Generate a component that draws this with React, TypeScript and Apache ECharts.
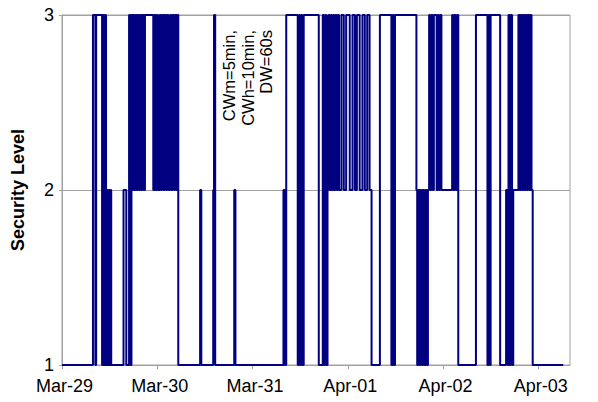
import React, { useEffect, useRef } from "react";
import * as echarts from "echarts";

// Hours elapsed since Mar-29 00:00 at which the security level changes
const hours = [
  0, 7.8, 8.4, 8.6, 10.1, 10.4, 10.6, 10.9, 11.1, 11.4, 11.6, 11.8, 12.0, 12.2, 12.4,
  15.5, 16.2, 16.9, 17.2, 17.5, 17.7, 17.9, 18.2, 18.5, 18.8, 19.1, 19.4, 19.7, 20.0,
  20.3, 20.6, 20.9, 23.0, 23.3, 23.6, 23.9, 24.2, 24.6, 24.9, 25.2, 25.5, 25.8, 26.2,
  26.5, 26.8, 27.2, 27.5, 27.8, 28.2, 28.5, 28.8, 29.1, 29.3, 34.8, 35.1, 38.1, 38.3,
  38.6, 43.4, 43.7, 55.8, 56.1, 56.5, 59.4, 59.7, 60.0, 60.3, 60.6, 60.9, 64.7, 65.7,
  66.0, 66.3, 66.6, 66.9, 67.1, 67.4, 67.7, 68.0, 68.3, 68.6, 68.9, 69.2, 69.5, 69.8,
  70.4, 71.0, 71.6, 72.5, 73.2, 73.8, 74.3, 75.0, 75.7, 76.3, 76.9, 77.5, 78.0, 80.1,
  83.0, 83.3, 83.6, 83.9, 89.3, 89.5, 89.8, 90.1, 90.4, 90.7, 91.0, 91.3, 91.6, 91.9,
  92.2, 92.5, 92.8, 93.1, 93.4, 93.7, 94.4, 94.7, 95.0, 95.3, 95.6, 98.3, 98.6, 98.9,
  99.2, 99.5, 99.85, 104.3, 107.2, 107.5, 107.8, 108.0, 110.4, 111.9, 112.3, 112.5,
  112.8, 113.1, 113.4, 113.7, 115.0, 115.3, 115.6, 115.9, 116.2, 116.5, 116.8, 117.1,
  117.4, 117.7, 118.0, 118.3, 118.6, 126.3,
];

// Security level from each change time onwards
const levels = [
  1, 3, 1, 3, 1, 3, 1, 3, 1, 2, 1, 2, 1, 2, 1,
  2, 1, 3, 1, 3, 2, 3, 2, 3, 2, 3, 2, 3, 2,
  3, 2, 3, 2, 3, 2, 3, 2, 3, 2, 3, 2, 3, 2,
  3, 2, 3, 2, 3, 2, 3, 2, 3, 1, 2, 1, 2, 3,
  1, 2, 1, 2, 1, 3, 1, 3, 1, 3, 1, 3, 1, 3,
  1, 3, 1, 2, 3, 2, 3, 2, 3, 2, 3, 2, 3, 2,
  3, 2, 3, 2, 3, 2, 3, 2, 3, 2, 3, 2, 1, 3,
  1, 3, 1, 3, 2, 1, 2, 1, 2, 1, 2, 1, 2, 1,
  2, 3, 2, 3, 2, 3, 2, 3, 2, 3, 2, 3, 2, 3,
  2, 3, 1, 3, 1, 3, 1, 3, 1, 2, 1, 3,
  1, 3, 1, 2, 3, 2, 3, 2, 3, 2, 3, 2,
  3, 2, 3, 2, 1, 1,
];

const dayLabels = ["Mar-29", "Mar-30", "Mar-31", "Apr-01", "Apr-02", "Apr-03"];
const yTicks = [1, 2, 3];
const annotationLines = ["CWm=5min,", "CWh=10min,", "DW=60s"];

const FONT = "Liberation Sans, Arial, Helvetica, sans-serif";
const FS = 18;
const FS_NOTE = 16.5;

export default function App() {
  const ref = useRef<HTMLDivElement>(null);

  useEffect(() => {
    if (!ref.current) return;
    const chart = echarts.init(ref.current, undefined, { renderer: "svg" });
    const data = hours.map((h, i) => [h, levels[i]]);
    const annX = [229, 247.5, 266];
    chart.setOption({
      animation: false,
      backgroundColor: "#ffffff",
      grid: {
        left: 62,
        right: 28,
        top: 15,
        bottom: 37,
        show: true,
        borderColor: "#a0a0a0",
        borderWidth: 1,
        backgroundColor: "transparent",
        containLabel: false,
        outerBoundsMode: "none",
      },
      xAxis: {
        type: "value",
        min: 0,
        max: 128,
        interval: 24,
        axisLine: { show: true, lineStyle: { color: "#a0a0a0", width: 1 } },
        axisTick: { show: true, inside: false, length: 4, lineStyle: { color: "#a0a0a0" } },
        splitLine: { show: false },
        axisLabel: {
          color: "#000",
          fontFamily: FONT,
          fontSize: FS,
          margin: 12,
          padding: [0, 0, 0, 5],
          formatter: (v: number) => dayLabels[Math.round(v / 24)] ?? "",
        },
      },
      yAxis: {
        type: "value",
        min: yTicks[0],
        max: yTicks[yTicks.length - 1],
        interval: 1,
        name: "Security Level",
        nameLocation: "middle",
        nameGap: 35,
        nameTextStyle: { color: "#000", fontFamily: FONT, fontSize: FS, fontWeight: "bold" },
        axisLine: { show: true, lineStyle: { color: "#a0a0a0", width: 1 } },
        axisTick: { show: true, inside: false, length: 3, lineStyle: { color: "#a0a0a0" } },
        splitLine: { show: true, lineStyle: { color: "#a0a0a0", width: 1 } },
        axisLabel: { color: "#000", fontFamily: FONT, fontSize: FS, margin: 8 },
      },
      series: [
        {
          type: "line",
          step: "end",
          data,
          showSymbol: false,
          symbol: "none",
          lineStyle: { color: "#000080", width: 2 },
          itemStyle: { color: "#000080" },
        },
      ],
      graphic: annotationLines.map((t, i) => ({
        type: "text",
        x: annX[i],
        y: 30,
        rotation: Math.PI / 2,
        style: {
          text: t,
          fill: "#000",
          font: `${FS_NOTE}px ${FONT}`,
          align: "right",
          verticalAlign: "middle",
        },
      })),
    });
    return () => chart.dispose();
  }, []);

  return (
    <div
      ref={ref}
      style={{ position: "fixed", left: 0, top: 0, width: 598, height: 402 }}
    />
  );
}
